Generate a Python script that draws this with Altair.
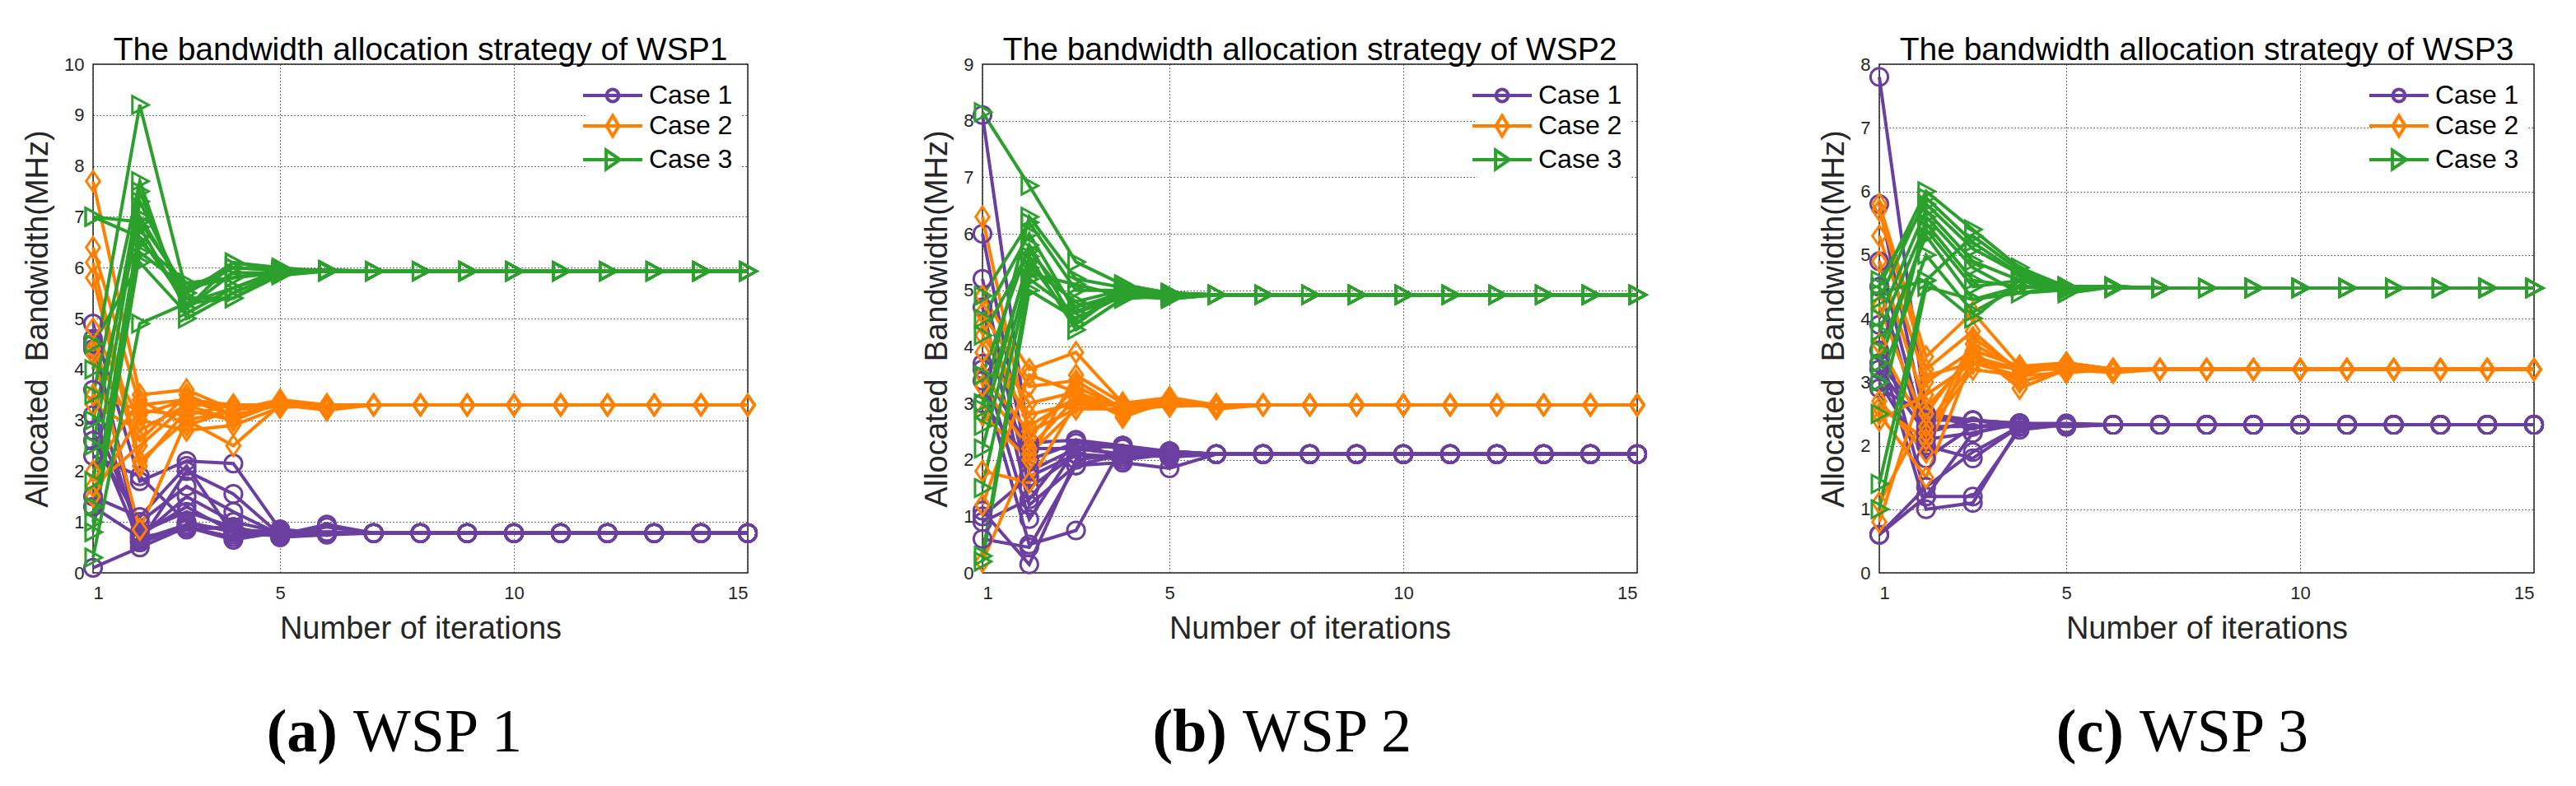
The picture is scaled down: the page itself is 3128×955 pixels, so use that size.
import altair as alt
import pandas as pd

ITERATIONS = [1, 2, 3, 4, 5, 6, 7, 8, 9, 10, 11, 12, 13, 14, 15]
X_TICKS = [1, 5, 10, 15]
CASES = ["Case 1", "Case 2", "Case 3"]
COLORS = ["#6b3fa0", "#ff8000", "#2ca02c"]
PANEL_TITLES = [
    "The bandwidth allocation strategy of WSP1",
    "The bandwidth allocation strategy of WSP2",
    "The bandwidth allocation strategy of WSP3",
]
Y_MAX = [10, 9, 8]
Y_TICKS = [
    [0, 1, 2, 3, 4, 5, 6, 7, 8, 9, 10],
    [0, 1, 2, 3, 4, 5, 6, 7, 8, 9],
    [0, 1, 2, 3, 4, 5, 6, 7, 8],
]
CAPTION_TAGS = ["(a)", "(b)", "(c)"]
CAPTION_NAMES = ["WSP 1", "WSP 2", "WSP 3"]

# ---- WSP1 trajectories (iterations 1..15) ----
WSP1_CASE1 = [
    [4.9, 1.8, 2.2, 2.15, 0.85, 0.78, 0.78, 0.78, 0.78, 0.78, 0.78, 0.78, 0.78, 0.78, 0.78],
    [4.5, 0.6, 2.0, 1.55, 0.75, 0.95, 0.78, 0.78, 0.78, 0.78, 0.78, 0.78, 0.78, 0.78, 0.78],
    [4.4, 0.7, 1.5, 1.0, 0.8, 0.8, 0.78, 0.78, 0.78, 0.78, 0.78, 0.78, 0.78, 0.78, 0.78],
    [3.1, 0.8, 1.2, 0.9, 0.7, 0.75, 0.78, 0.78, 0.78, 0.78, 0.78, 0.78, 0.78, 0.78, 0.78],
    [2.8, 0.6, 0.9, 0.65, 0.8, 0.8, 0.78, 0.78, 0.78, 0.78, 0.78, 0.78, 0.78, 0.78, 0.78],
    [2.3, 1.9, 1.0, 0.8, 0.75, 0.78, 0.78, 0.78, 0.78, 0.78, 0.78, 0.78, 0.78, 0.78, 0.78],
    [1.3, 0.7, 0.85, 0.9, 0.7, 0.78, 0.78, 0.78, 0.78, 0.78, 0.78, 0.78, 0.78, 0.78, 0.78],
    [0.1, 0.5, 0.9, 0.7, 0.8, 0.78, 0.78, 0.78, 0.78, 0.78, 0.78, 0.78, 0.78, 0.78, 0.78],
    [2.6, 1.0, 1.7, 1.2, 0.75, 0.9, 0.78, 0.78, 0.78, 0.78, 0.78, 0.78, 0.78, 0.78, 0.78],
    [3.6, 0.65, 0.95, 0.85, 0.8, 0.78, 0.78, 0.78, 0.78, 0.78, 0.78, 0.78, 0.78, 0.78, 0.78],
    [4.6, 0.75, 1.3, 0.8, 0.72, 0.8, 0.78, 0.78, 0.78, 0.78, 0.78, 0.78, 0.78, 0.78, 0.78],
    [1.5, 1.1, 2.1, 0.75, 0.85, 0.78, 0.78, 0.78, 0.78, 0.78, 0.78, 0.78, 0.78, 0.78, 0.78],
]
WSP1_CASE2 = [
    [7.7, 3.5, 3.6, 3.2, 3.35, 3.25, 3.3, 3.3, 3.3, 3.3, 3.3, 3.3, 3.3, 3.3, 3.3],
    [6.4, 3.3, 3.4, 3.3, 3.3, 3.3, 3.3, 3.3, 3.3, 3.3, 3.3, 3.3, 3.3, 3.3, 3.3],
    [6.1, 2.2, 3.0, 2.5, 3.3, 3.25, 3.3, 3.3, 3.3, 3.3, 3.3, 3.3, 3.3, 3.3, 3.3],
    [5.8, 2.1, 3.2, 3.0, 3.35, 3.3, 3.3, 3.3, 3.3, 3.3, 3.3, 3.3, 3.3, 3.3, 3.3],
    [4.8, 3.0, 2.8, 2.9, 3.25, 3.3, 3.3, 3.3, 3.3, 3.3, 3.3, 3.3, 3.3, 3.3, 3.3],
    [4.4, 2.6, 3.5, 3.1, 3.3, 3.2, 3.3, 3.3, 3.3, 3.3, 3.3, 3.3, 3.3, 3.3, 3.3],
    [4.3, 0.85, 3.0, 3.2, 3.4, 3.3, 3.3, 3.3, 3.3, 3.3, 3.3, 3.3, 3.3, 3.3, 3.3],
    [3.5, 3.2, 3.1, 3.3, 3.3, 3.3, 3.3, 3.3, 3.3, 3.3, 3.3, 3.3, 3.3, 3.3, 3.3],
    [3.3, 2.8, 3.3, 3.0, 3.35, 3.3, 3.3, 3.3, 3.3, 3.3, 3.3, 3.3, 3.3, 3.3, 3.3],
    [2.0, 3.4, 2.9, 3.2, 3.3, 3.25, 3.3, 3.3, 3.3, 3.3, 3.3, 3.3, 3.3, 3.3, 3.3],
    [1.7, 2.5, 3.3, 3.3, 3.3, 3.3, 3.3, 3.3, 3.3, 3.3, 3.3, 3.3, 3.3, 3.3, 3.3],
    [1.5, 3.1, 3.4, 3.1, 3.3, 3.3, 3.3, 3.3, 3.3, 3.3, 3.3, 3.3, 3.3, 3.3, 3.3],
]
WSP1_CASE3 = [
    [7.0, 6.9, 5.6, 5.8, 5.95, 5.95, 5.93, 5.93, 5.93, 5.93, 5.93, 5.93, 5.93, 5.93, 5.93],
    [7.0, 6.6, 5.3, 5.6, 5.9, 5.95, 5.93, 5.93, 5.93, 5.93, 5.93, 5.93, 5.93, 5.93, 5.93],
    [4.0, 9.2, 5.5, 6.0, 5.95, 5.95, 5.93, 5.93, 5.93, 5.93, 5.93, 5.93, 5.93, 5.93, 5.93],
    [3.5, 7.7, 5.0, 5.5, 5.9, 5.93, 5.93, 5.93, 5.93, 5.93, 5.93, 5.93, 5.93, 5.93, 5.93],
    [2.5, 7.5, 5.2, 6.1, 5.95, 5.93, 5.93, 5.93, 5.93, 5.93, 5.93, 5.93, 5.93, 5.93, 5.93],
    [1.8, 7.3, 5.4, 5.4, 5.85, 5.93, 5.93, 5.93, 5.93, 5.93, 5.93, 5.93, 5.93, 5.93, 5.93],
    [1.0, 6.5, 5.7, 5.8, 5.9, 5.93, 5.93, 5.93, 5.93, 5.93, 5.93, 5.93, 5.93, 5.93, 5.93],
    [0.8, 6.3, 5.6, 6.0, 5.95, 5.93, 5.93, 5.93, 5.93, 5.93, 5.93, 5.93, 5.93, 5.93, 5.93],
    [0.3, 4.9, 5.3, 5.4, 5.9, 5.93, 5.93, 5.93, 5.93, 5.93, 5.93, 5.93, 5.93, 5.93, 5.93],
    [4.5, 6.1, 5.1, 5.6, 5.95, 5.93, 5.93, 5.93, 5.93, 5.93, 5.93, 5.93, 5.93, 5.93, 5.93],
    [3.0, 7.0, 5.5, 6.1, 6.0, 5.93, 5.93, 5.93, 5.93, 5.93, 5.93, 5.93, 5.93, 5.93, 5.93],
    [1.3, 6.8, 5.2, 5.9, 5.9, 5.93, 5.93, 5.93, 5.93, 5.93, 5.93, 5.93, 5.93, 5.93, 5.93],
]

# ---- WSP2 trajectories ----
WSP2_CASE1 = [
    [8.1, 2.3, 2.35, 2.25, 2.15, 2.1, 2.1, 2.1, 2.1, 2.1, 2.1, 2.1, 2.1, 2.1, 2.1],
    [6.0, 1.8, 2.2, 2.1, 2.05, 2.1, 2.1, 2.1, 2.1, 2.1, 2.1, 2.1, 2.1, 2.1, 2.1],
    [5.2, 1.5, 2.1, 2.0, 2.1, 2.1, 2.1, 2.1, 2.1, 2.1, 2.1, 2.1, 2.1, 2.1, 2.1],
    [4.7, 1.2, 1.9, 1.95, 1.85, 2.1, 2.1, 2.1, 2.1, 2.1, 2.1, 2.1, 2.1, 2.1, 2.1],
    [3.7, 0.95, 2.2, 2.1, 2.15, 2.1, 2.1, 2.1, 2.1, 2.1, 2.1, 2.1, 2.1, 2.1, 2.1],
    [3.4, 0.5, 0.75, 2.25, 2.1, 2.1, 2.1, 2.1, 2.1, 2.1, 2.1, 2.1, 2.1, 2.1, 2.1],
    [3.0, 2.0, 2.3, 2.2, 2.05, 2.1, 2.1, 2.1, 2.1, 2.1, 2.1, 2.1, 2.1, 2.1, 2.1],
    [1.1, 0.15, 2.0, 2.1, 2.1, 2.1, 2.1, 2.1, 2.1, 2.1, 2.1, 2.1, 2.1, 2.1, 2.1],
    [1.0, 1.7, 2.1, 2.05, 2.1, 2.1, 2.1, 2.1, 2.1, 2.1, 2.1, 2.1, 2.1, 2.1, 2.1],
    [0.9, 1.3, 2.35, 2.0, 2.15, 2.1, 2.1, 2.1, 2.1, 2.1, 2.1, 2.1, 2.1, 2.1, 2.1],
    [0.6, 0.45, 1.9, 2.1, 2.1, 2.1, 2.1, 2.1, 2.1, 2.1, 2.1, 2.1, 2.1, 2.1, 2.1],
    [3.6, 2.2, 2.2, 2.25, 2.1, 2.1, 2.1, 2.1, 2.1, 2.1, 2.1, 2.1, 2.1, 2.1, 2.1],
]
WSP2_CASE2 = [
    [6.3, 2.4, 3.3, 2.9, 3.1, 2.95, 2.97, 2.97, 2.97, 2.97, 2.97, 2.97, 2.97, 2.97, 2.97],
    [4.9, 3.6, 3.9, 3.0, 3.0, 2.97, 2.97, 2.97, 2.97, 2.97, 2.97, 2.97, 2.97, 2.97, 2.97],
    [4.6, 3.3, 3.4, 2.9, 2.95, 2.97, 2.97, 2.97, 2.97, 2.97, 2.97, 2.97, 2.97, 2.97, 2.97],
    [4.2, 3.0, 3.2, 2.75, 3.05, 2.97, 2.97, 2.97, 2.97, 2.97, 2.97, 2.97, 2.97, 2.97, 2.97],
    [3.9, 2.8, 3.0, 3.0, 3.1, 2.9, 2.97, 2.97, 2.97, 2.97, 2.97, 2.97, 2.97, 2.97, 2.97],
    [3.5, 2.5, 2.9, 2.9, 3.0, 2.97, 2.97, 2.97, 2.97, 2.97, 2.97, 2.97, 2.97, 2.97, 2.97],
    [3.3, 2.2, 3.1, 2.8, 3.0, 2.97, 2.97, 2.97, 2.97, 2.97, 2.97, 2.97, 2.97, 2.97, 2.97],
    [2.8, 2.0, 3.5, 3.0, 2.95, 2.97, 2.97, 2.97, 2.97, 2.97, 2.97, 2.97, 2.97, 2.97, 2.97],
    [1.8, 1.6, 3.0, 2.85, 3.0, 2.97, 2.97, 2.97, 2.97, 2.97, 2.97, 2.97, 2.97, 2.97, 2.97],
    [1.2, 3.5, 3.2, 2.9, 3.05, 2.97, 2.97, 2.97, 2.97, 2.97, 2.97, 2.97, 2.97, 2.97, 2.97],
    [0.2, 2.1, 2.9, 3.0, 3.0, 2.97, 2.97, 2.97, 2.97, 2.97, 2.97, 2.97, 2.97, 2.97, 2.97],
    [4.4, 2.6, 3.1, 2.95, 3.1, 2.97, 2.97, 2.97, 2.97, 2.97, 2.97, 2.97, 2.97, 2.97, 2.97],
]
WSP2_CASE3 = [
    [8.15, 6.85, 5.5, 5.1, 4.95, 4.92, 4.92, 4.92, 4.92, 4.92, 4.92, 4.92, 4.92, 4.92, 4.92],
    [4.9, 6.2, 5.0, 5.0, 4.9, 4.92, 4.92, 4.92, 4.92, 4.92, 4.92, 4.92, 4.92, 4.92, 4.92],
    [4.5, 6.0, 4.6, 4.9, 4.85, 4.92, 4.92, 4.92, 4.92, 4.92, 4.92, 4.92, 4.92, 4.92, 4.92],
    [3.5, 5.8, 4.4, 5.1, 4.95, 4.92, 4.92, 4.92, 4.92, 4.92, 4.92, 4.92, 4.92, 4.92, 4.92],
    [2.6, 5.6, 4.3, 4.85, 4.9, 4.92, 4.92, 4.92, 4.92, 4.92, 4.92, 4.92, 4.92, 4.92, 4.92],
    [2.2, 5.4, 4.8, 5.0, 4.95, 4.92, 4.92, 4.92, 4.92, 4.92, 4.92, 4.92, 4.92, 4.92, 4.92],
    [1.5, 5.3, 5.1, 4.9, 4.9, 4.92, 4.92, 4.92, 4.92, 4.92, 4.92, 4.92, 4.92, 4.92, 4.92],
    [0.3, 5.2, 4.6, 5.0, 4.85, 4.92, 4.92, 4.92, 4.92, 4.92, 4.92, 4.92, 4.92, 4.92, 4.92],
    [0.2, 5.0, 4.5, 4.9, 4.95, 4.92, 4.92, 4.92, 4.92, 4.92, 4.92, 4.92, 4.92, 4.92, 4.92],
    [3.0, 6.3, 5.2, 5.05, 4.9, 4.92, 4.92, 4.92, 4.92, 4.92, 4.92, 4.92, 4.92, 4.92, 4.92],
    [4.2, 5.7, 4.7, 4.95, 4.9, 4.92, 4.92, 4.92, 4.92, 4.92, 4.92, 4.92, 4.92, 4.92, 4.92],
    [2.9, 5.5, 4.4, 5.0, 4.92, 4.92, 4.92, 4.92, 4.92, 4.92, 4.92, 4.92, 4.92, 4.92, 4.92],
]

# ---- WSP3 trajectories ----
WSP3_CASE1 = [
    [7.8, 2.5, 2.4, 2.35, 2.33, 2.33, 2.33, 2.33, 2.33, 2.33, 2.33, 2.33, 2.33, 2.33, 2.33],
    [5.8, 2.3, 2.3, 2.3, 2.33, 2.33, 2.33, 2.33, 2.33, 2.33, 2.33, 2.33, 2.33, 2.33, 2.33],
    [4.9, 2.1, 2.2, 2.35, 2.3, 2.33, 2.33, 2.33, 2.33, 2.33, 2.33, 2.33, 2.33, 2.33, 2.33],
    [4.5, 2.0, 1.8, 2.3, 2.33, 2.33, 2.33, 2.33, 2.33, 2.33, 2.33, 2.33, 2.33, 2.33, 2.33],
    [3.9, 1.2, 1.2, 2.25, 2.33, 2.33, 2.33, 2.33, 2.33, 2.33, 2.33, 2.33, 2.33, 2.33, 2.33],
    [3.5, 1.0, 1.1, 2.3, 2.33, 2.33, 2.33, 2.33, 2.33, 2.33, 2.33, 2.33, 2.33, 2.33, 2.33],
    [3.3, 2.4, 2.4, 2.35, 2.35, 2.33, 2.33, 2.33, 2.33, 2.33, 2.33, 2.33, 2.33, 2.33, 2.33],
    [3.0, 1.8, 2.3, 2.3, 2.33, 2.33, 2.33, 2.33, 2.33, 2.33, 2.33, 2.33, 2.33, 2.33, 2.33],
    [0.6, 1.2, 2.2, 2.35, 2.3, 2.33, 2.33, 2.33, 2.33, 2.33, 2.33, 2.33, 2.33, 2.33, 2.33],
    [3.2, 2.2, 2.4, 2.3, 2.33, 2.33, 2.33, 2.33, 2.33, 2.33, 2.33, 2.33, 2.33, 2.33, 2.33],
    [0.6, 1.35, 1.9, 2.3, 2.33, 2.33, 2.33, 2.33, 2.33, 2.33, 2.33, 2.33, 2.33, 2.33, 2.33],
    [2.9, 2.5, 2.3, 2.35, 2.33, 2.33, 2.33, 2.33, 2.33, 2.33, 2.33, 2.33, 2.33, 2.33, 2.33],
]
WSP3_CASE2 = [
    [5.8, 3.4, 4.1, 3.25, 3.3, 3.2, 3.2, 3.2, 3.2, 3.2, 3.2, 3.2, 3.2, 3.2, 3.2],
    [5.7, 3.2, 3.8, 3.15, 3.25, 3.2, 3.2, 3.2, 3.2, 3.2, 3.2, 3.2, 3.2, 3.2, 3.2],
    [5.3, 3.0, 3.5, 2.9, 3.2, 3.15, 3.2, 3.2, 3.2, 3.2, 3.2, 3.2, 3.2, 3.2, 3.2],
    [4.9, 2.6, 3.4, 3.2, 3.3, 3.2, 3.2, 3.2, 3.2, 3.2, 3.2, 3.2, 3.2, 3.2, 3.2],
    [4.2, 2.3, 3.3, 3.25, 3.2, 3.2, 3.2, 3.2, 3.2, 3.2, 3.2, 3.2, 3.2, 3.2, 3.2],
    [3.6, 2.2, 3.2, 3.1, 3.15, 3.2, 3.2, 3.2, 3.2, 3.2, 3.2, 3.2, 3.2, 3.2, 3.2],
    [2.7, 1.9, 3.6, 3.2, 3.3, 3.2, 3.2, 3.2, 3.2, 3.2, 3.2, 3.2, 3.2, 3.2, 3.2],
    [2.5, 1.5, 3.4, 3.0, 3.2, 3.2, 3.2, 3.2, 3.2, 3.2, 3.2, 3.2, 3.2, 3.2, 3.2],
    [2.4, 2.8, 3.3, 3.2, 3.25, 3.2, 3.2, 3.2, 3.2, 3.2, 3.2, 3.2, 3.2, 3.2, 3.2],
    [1.1, 2.5, 3.5, 3.25, 3.2, 3.2, 3.2, 3.2, 3.2, 3.2, 3.2, 3.2, 3.2, 3.2, 3.2],
    [0.8, 3.1, 3.3, 3.1, 3.3, 3.2, 3.2, 3.2, 3.2, 3.2, 3.2, 3.2, 3.2, 3.2, 3.2],
    [2.6, 2.1, 3.7, 3.2, 3.2, 3.2, 3.2, 3.2, 3.2, 3.2, 3.2, 3.2, 3.2, 3.2, 3.2],
]
WSP3_CASE3 = [
    [4.5, 6.0, 5.4, 4.8, 4.5, 4.5, 4.48, 4.48, 4.48, 4.48, 4.48, 4.48, 4.48, 4.48, 4.48],
    [4.3, 5.9, 5.2, 4.7, 4.4, 4.5, 4.48, 4.48, 4.48, 4.48, 4.48, 4.48, 4.48, 4.48, 4.48],
    [4.0, 5.7, 4.9, 4.6, 4.5, 4.5, 4.48, 4.48, 4.48, 4.48, 4.48, 4.48, 4.48, 4.48, 4.48],
    [3.8, 5.5, 4.6, 4.5, 4.45, 4.5, 4.48, 4.48, 4.48, 4.48, 4.48, 4.48, 4.48, 4.48, 4.48],
    [3.5, 5.3, 4.3, 4.4, 4.5, 4.5, 4.48, 4.48, 4.48, 4.48, 4.48, 4.48, 4.48, 4.48, 4.48],
    [3.0, 5.0, 4.1, 4.5, 4.5, 4.48, 4.48, 4.48, 4.48, 4.48, 4.48, 4.48, 4.48, 4.48, 4.48],
    [1.4, 4.6, 4.0, 4.6, 4.4, 4.5, 4.48, 4.48, 4.48, 4.48, 4.48, 4.48, 4.48, 4.48, 4.48],
    [1.0, 4.5, 4.3, 4.5, 4.5, 4.48, 4.48, 4.48, 4.48, 4.48, 4.48, 4.48, 4.48, 4.48, 4.48],
    [4.6, 5.8, 5.1, 4.7, 4.5, 4.5, 4.48, 4.48, 4.48, 4.48, 4.48, 4.48, 4.48, 4.48, 4.48],
    [2.5, 5.6, 4.8, 4.4, 4.45, 4.5, 4.48, 4.48, 4.48, 4.48, 4.48, 4.48, 4.48, 4.48, 4.48],
    [4.4, 4.6, 5.3, 4.75, 4.5, 4.5, 4.48, 4.48, 4.48, 4.48, 4.48, 4.48, 4.48, 4.48, 4.48],
    [3.3, 5.4, 4.5, 4.6, 4.5, 4.48, 4.48, 4.48, 4.48, 4.48, 4.48, 4.48, 4.48, 4.48, 4.48],
]

PANELS = [
    [WSP1_CASE1, WSP1_CASE2, WSP1_CASE3],
    [WSP2_CASE1, WSP2_CASE2, WSP2_CASE3],
    [WSP3_CASE1, WSP3_CASE2, WSP3_CASE3],
]

rows = []
for p, cases in enumerate(PANELS):
    for c, trajs in enumerate(cases):
        for t, vals in enumerate(trajs):
            assert len(vals) == len(ITERATIONS), (p, c, t, len(vals))
            for it, v in zip(ITERATIONS, vals):
                rows.append({"panel": p, "case": CASES[c], "line": f"{c}-{t}", "iter": it, "bw": v})
df = pd.DataFrame(rows)

# marker shapes (open markers)
MARKERS = [
    "circle",
    "M0,-1L0.68,0L0,1L-0.68,0Z",
    "M-0.85,-1L1,0L-0.85,1Z",
]
MARKER_SIZES = [450, 600, 450]
# legend symbols: a line with the marker on it
LEGEND_SYMBOLS = [
    "M-2,0H2M0.41,0A0.41,0.41,0,1,1,-0.41,0A0.41,0.41,0,1,1,0.41,0",
    "M-2,0H2M0,-0.69L0.42,0L0,0.69L-0.42,0Z",
    "M-2,0H2M-0.44,-0.64L0.5,0L-0.44,0.64Z",
]

FONT = "Liberation Sans"
SERIF = "Liberation Serif"
W, H = 795, 618


def panel(i):
    d = df[df["panel"] == i]
    base = alt.Chart(d)
    x = alt.X(
        "iter:Q",
        scale=alt.Scale(domain=[1, 15], nice=False, zero=False),
        axis=alt.Axis(values=X_TICKS, title="Number of iterations", format="d"),
    )
    y = alt.Y(
        "bw:Q",
        scale=alt.Scale(domain=[0, Y_MAX[i]], nice=False),
        axis=alt.Axis(values=Y_TICKS[i], title="Allocated\u00a0\u00a0Bandwidth(MHz)", format="d"),
    )
    cscale = alt.Scale(domain=CASES, range=COLORS)
    lines = base.mark_line(strokeWidth=4).encode(
        x=x, y=y,
        color=alt.Color("case:N", scale=cscale, legend=None),
        detail="line:N",
    )
    layers = [lines]
    for k, c in enumerate(CASES):
        layers.append(
            base.transform_filter(alt.datum.case == c)
            .mark_point(shape=MARKERS[k], size=MARKER_SIZES[k], filled=False,
                        strokeWidth=3, opacity=1)
            .encode(x=x, y=y, color=alt.Color("case:N", scale=cscale, legend=None))
        )
    leg = alt.Legend(
        title=None, orient="top-right", offset=8, padding=10,
        fillColor="white", labelFont=FONT, labelFontSize=32, labelColor="black",
        labelOffset=24, symbolSize=1296, symbolStrokeWidth=4, rowPadding=0,
        labelLimit=0, symbolOpacity=1,
    )
    legend_layer = (
        base.transform_filter("datum.iter > 100")
        .mark_point(filled=False, strokeWidth=4, opacity=1)
        .encode(
            x=x, y=y,
            color=alt.Color("case:N", scale=cscale, legend=leg),
            shape=alt.Shape("case:N", scale=alt.Scale(domain=CASES, range=LEGEND_SYMBOLS), legend=leg),
        )
    )
    layers.append(legend_layer)
    tag = alt.Chart(pd.DataFrame({"t": [CAPTION_TAGS[i]]})).mark_text(
        font=SERIF, fontSize=74, fontWeight="bold", align="right",
        baseline="alphabetic", color="black",
    ).encode(x=alt.value(297), y=alt.value(835), text="t:N")
    name = alt.Chart(pd.DataFrame({"t": [CAPTION_NAMES[i]]})).mark_text(
        font=SERIF, fontSize=74, fontWeight="normal", align="left",
        baseline="alphabetic", color="black",
    ).encode(x=alt.value(316), y=alt.value(835), text="t:N")
    layers += [tag, name]
    return alt.layer(*layers).resolve_scale(
        color="independent", shape="independent"
    ).properties(
        width=W, height=H,
        title=alt.TitleParams(
            text=PANEL_TITLES[i], font=FONT, fontSize=39, fontWeight="normal",
            color="black", anchor="middle", frame="group", offset=-14,
        ),
    )


inner = alt.hconcat(panel(0), panel(1), spacing=193).resolve_scale(
    color="independent", shape="independent", y="independent", x="independent")
chart = (
    alt.hconcat(inner, panel(2), spacing=202)
    .resolve_scale(color="independent", shape="independent", y="independent", x="independent")
    .properties(padding={"left": 18, "top": 33, "right": 20, "bottom": 10}, background="white")
    .configure_view(stroke="#262626", strokeWidth=1.5)
    .configure_axis(
        labelFont=FONT, labelFontSize=22, labelColor="#262626",
        titleFont=FONT, titleFontSize=38, titleFontWeight="normal", titleColor="#262626",
        domain=False, ticks=False, grid=True, gridColor="#262626", gridDash=[1.5, 2.5],
        gridOpacity=0.85, gridWidth=1,
    )
    .configure_axisX(labelPadding=14, titlePadding=14)
    .configure_axisY(labelPadding=11, titlePadding=12)
)

chart.save("out.html", embed_options={"renderer": "svg", "actions": False})
